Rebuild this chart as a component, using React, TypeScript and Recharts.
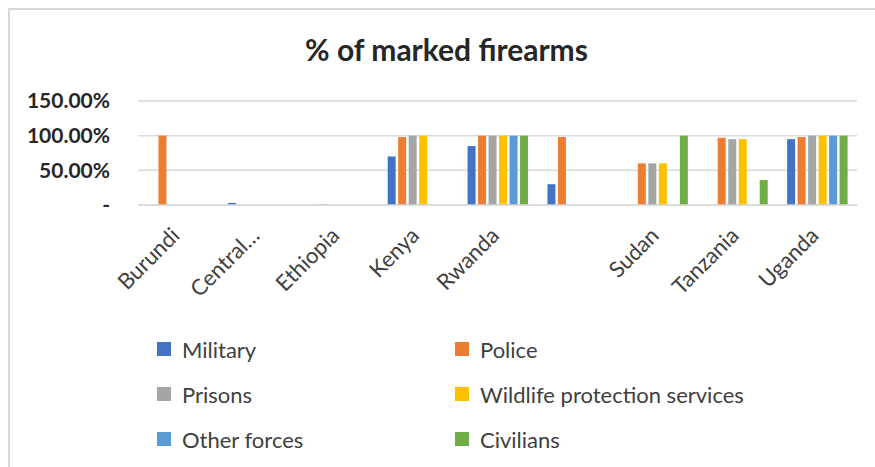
import { BarChart, Bar, XAxis, YAxis, CartesianGrid } from 'recharts';

const countries = ['Burundi', 'Central…', 'Ethiopia', 'Kenya', 'Rwanda', '', 'Sudan', 'Tanzania', 'Uganda'];

const military = [0, 0.03, 0, 0.7, 0.85, 0.3, 0, 0, 0.95];
const police = [1, 0, 0.01, 0.98, 1, 0.98, 0.6, 0.97, 0.98];
const prisons = [0, 0, 0, 1, 1, 0, 0.6, 0.95, 1];
const wildlife = [0, 0, 0, 1, 1, 0, 0.6, 0.95, 1];
const otherForces = [0, 0, 0, 0, 1, 0, 0, 0, 1];
const civilians = [0, 0, 0, 0, 1, 0, 1, 0.36, 1];

const yTicks = [0, 0.5, 1, 1.5];

const series = [
  { key: 'military', name: 'Military', color: '#4472C4', values: military },
  { key: 'police', name: 'Police', color: '#ED7D31', values: police },
  { key: 'prisons', name: 'Prisons', color: '#A5A5A5', values: prisons },
  { key: 'wildlife', name: 'Wildlife protection services', color: '#FFC000', values: wildlife },
  { key: 'other', name: 'Other forces', color: '#5B9BD5', values: otherForces },
  { key: 'civilians', name: 'Civilians', color: '#70AD47', values: civilians },
];

const data = countries.map((country, i) => {
  const row: Record<string, string | number> = { country };
  series.forEach((s) => {
    row[s.key] = s.values[i];
  });
  return row;
});

const FONT = 'Lato, sans-serif';

function formatPct(v: number): string {
  if (v === 0) return '-';
  return `${(v * 100).toFixed(2)}%`;
}

function CountryTick({ x, y, payload }: { x?: number; y?: number; payload?: { value: string } }) {
  const ax = (x ?? 0) + 3;
  const ay = (y ?? 0) + 24;
  return (
    <text
      x={ax}
      y={ay}
      transform={`rotate(-45, ${ax}, ${ay})`}
      textAnchor="end"
      fill="#404040"
      fontSize={22}
      fontFamily={FONT}
    >
      {payload?.value}
    </text>
  );
}

export default function App() {
  return (
    <div style={{ position: 'relative', width: 875, height: 467, overflow: 'hidden', fontFamily: FONT }}>
      <style>{'body { margin: 0; }'}</style>
      <div style={{ position: 'absolute', left: 8, top: 8, width: 867, height: 2, background: '#d9d9d9' }} />
      <div style={{ position: 'absolute', left: 8, top: 8, width: 2, height: 459, background: '#d9d9d9' }} />
      <div
        style={{
          position: 'absolute',
          left: 8,
          top: 31,
          width: 867,
          paddingLeft: 10,
          boxSizing: 'border-box',
          textAlign: 'center',
          fontSize: 30,
          fontWeight: 700,
          color: '#262626',
        }}
      >
        % of marked firearms
      </div>
      <div style={{ position: 'absolute', left: 8, top: 8 }}>
        <BarChart
          width={867}
          height={459}
          data={data}
          margin={{ top: 93, right: 18, left: 0, bottom: 162 }}
          barSize={8}
          barGap={2.5}
        >
          <CartesianGrid vertical={false} stroke="#d9d9d9" strokeWidth={1.5} />
          <XAxis
            dataKey="country"
            interval={0}
            height={100}
            tickLine={false}
            axisLine={{ stroke: '#d9d9d9', strokeWidth: 1.5 }}
            tick={<CountryTick />}
          />
          <YAxis
            width={130}
            domain={[0, 1.5]}
            ticks={yTicks}
            tickFormatter={formatPct}
            axisLine={false}
            tickLine={false}
            tickSize={0}
            tickMargin={28}
            tick={{ fill: '#262626', fontSize: 21, fontWeight: 700, fontFamily: FONT }}
          />
          {series.map((s) => (
            <Bar key={s.key} dataKey={s.key} name={s.name} fill={s.color} isAnimationActive={false} />
          ))}
        </BarChart>
      </div>
      {series.map((s, i) => {
        const col = i % 2;
        const row = Math.floor(i / 2);
        return (
          <div
            key={s.key}
            style={{
              position: 'absolute',
              left: col === 0 ? 157 : 455,
              top: 337 + row * 45,
              display: 'flex',
              alignItems: 'center',
              height: 24,
              fontSize: 22,
              color: '#404040',
              whiteSpace: 'nowrap',
            }}
          >
            <span style={{ display: 'inline-block', width: 14, height: 14, background: s.color, marginRight: 11 }} />
            {s.name}
          </div>
        );
      })}
    </div>
  );
}
